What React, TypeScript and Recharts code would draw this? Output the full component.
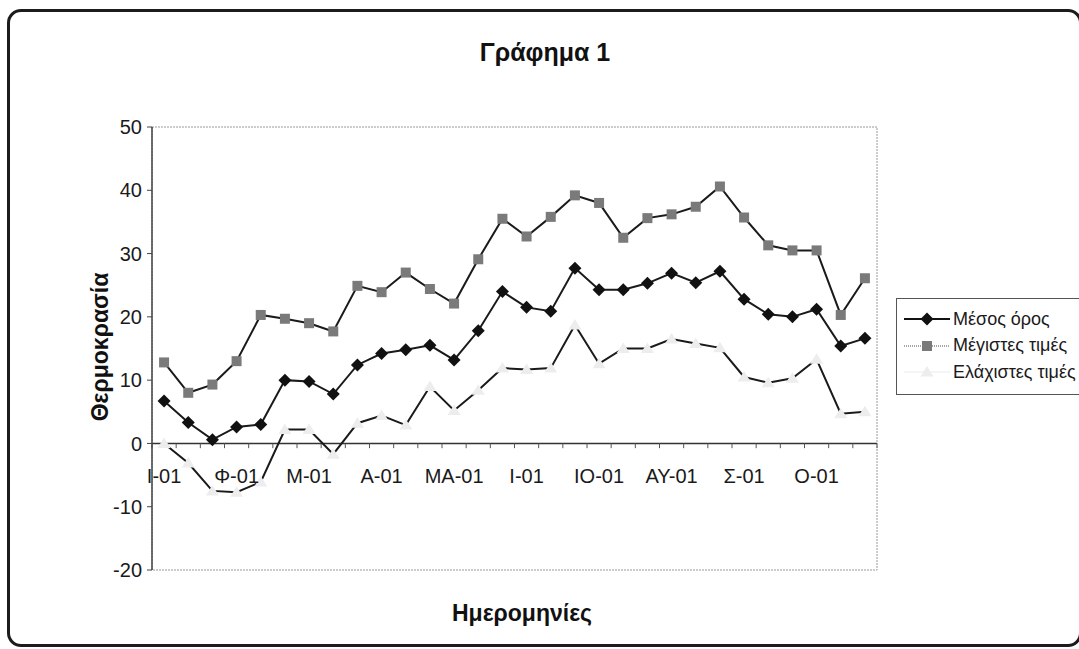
import React from 'react';
import {
  LineChart,
  Line,
  XAxis,
  YAxis,
  ReferenceLine,
  ReferenceArea,
  ReferenceDot,
} from 'recharts';

const monthLabels = ['Ι-01', 'Φ-01', 'Μ-01', 'Α-01', 'ΜΑ-01', 'Ι-01', 'ΙΟ-01', 'ΑΥ-01', 'Σ-01', 'Ο-01'];
const pointsPerMonth = 3;

const meanValues = [
  6.7, 3.3, 0.6, 2.6, 3.0, 10.0, 9.8, 7.8, 12.4, 14.2,
  14.8, 15.5, 13.2, 17.8, 24.0, 21.5, 20.9, 27.7, 24.3, 24.3,
  25.3, 26.9, 25.4, 27.2, 22.8, 20.4, 20.0, 21.2, 15.4, 16.6,
];
const maxValues = [
  12.8, 8.0, 9.3, 13.0, 20.3, 19.7, 19.0, 17.7, 24.9, 23.9,
  27.0, 24.4, 22.1, 29.1, 35.5, 32.7, 35.8, 39.2, 38.0, 32.5,
  35.6, 36.2, 37.4, 40.6, 35.7, 31.3, 30.5, 30.5, 20.3, 26.1,
];
const minValues = [
  0.0, -3.1, -7.5, -7.7, -6.1, 2.2, 2.2, -1.7, 3.2, 4.4,
  2.9, 9.0, 5.2, 8.4, 11.9, 11.7, 11.9, 18.7, 12.6, 15.0,
  15.0, 16.5, 15.8, 15.1, 10.5, 9.6, 10.3, 13.3, 4.7, 5.0,
];
const seriesNames = ['Μέσος όρος', 'Μέγιστες τιμές', 'Ελάχιστες τιμές'];
const yTicks = [-20, -10, 0, 10, 20, 30, 40, 50];

const data = meanValues.map((m, i) => ({
  x: i + 0.5,
  mean: m,
  max: maxValues[i],
  min: minValues[i],
}));
const nPoints = meanValues.length;
const boundaries = Array.from({ length: nPoints + 1 }, (_, k) => k);

const FONT = '"Liberation Sans", Arial, Helvetica, sans-serif';

const Diamond = (props: any) => {
  const { cx, cy, index } = props;
  if (cx == null || cy == null) return <g key={`d${index}`} />;
  return (
    <path
      key={`d${index}`}
      d={`M${cx},${cy - 6.5}L${cx + 6.5},${cy}L${cx},${cy + 6.5}L${cx - 6.5},${cy}Z`}
      fill="#111"
    />
  );
};
const Square = (props: any) => {
  const { cx, cy, index } = props;
  if (cx == null || cy == null) return <g key={`s${index}`} />;
  return <rect key={`s${index}`} x={cx - 5} y={cy - 5} width={10} height={10} fill="#7a7a7a" />;
};
const Triangle = (props: any) => {
  const { cx, cy, index } = props;
  if (cx == null || cy == null) return <g key={`t${index}`} />;
  return (
    <path
      key={`t${index}`}
      d={`M${cx},${cy - 6}L${cx + 6.5},${cy + 4.5}L${cx - 6.5},${cy + 4.5}Z`}
      fill="#ededed"
    />
  );
};

const LegendSample = ({ kind }: { kind: number }) => (
  <svg width={46} height={14} style={{ display: 'block' }}>
    {kind === 0 && (
      <>
        <line x1={0} y1={7} x2={46} y2={7} stroke="#111" strokeWidth={2} />
        <path d="M23,0.5L29.5,7L23,13.5L16.5,7Z" fill="#111" />
      </>
    )}
    {kind === 1 && (
      <>
        <line x1={0} y1={7} x2={46} y2={7} stroke="#888" strokeWidth={1.5} strokeDasharray="1 1" />
        <rect x={18} y={2} width={10} height={10} fill="#7a7a7a" />
      </>
    )}
    {kind === 2 && (
      <>
        <line x1={0} y1={7} x2={46} y2={7} stroke="#f2f2f2" strokeWidth={1.5} />
        <path d="M23,1L29.5,11.5L16.5,11.5Z" fill="#ededed" />
      </>
    )}
  </svg>
);

export default function App() {
  return (
    <div
      style={{
        position: 'absolute',
        left: 0,
        top: 0,
        width: 1079,
        height: 649,
        overflow: 'hidden',
        background: '#fff',
        fontFamily: FONT,
      }}
    >
      <div
        style={{
          position: 'absolute',
          left: 7,
          top: 9,
          width: 1075,
          height: 638,
          border: '3px solid #1c1c1c',
          borderRadius: 14,
          boxSizing: 'border-box',
        }}
      />
      <div style={{ position: 'absolute', left: 0, top: 0 }}>
        <LineChart
          width={1079}
          height={649}
          data={data}
          margin={{ top: 127, right: 202, bottom: 79, left: 92 }}
        >
          <XAxis dataKey="x" type="number" domain={[0, nPoints]} hide />
          <YAxis
            type="number"
            domain={[-20, 50]}
            ticks={yTicks}
            interval={0}
            width={60}
            tickSize={5}
            tickMargin={5}
            axisLine={{ stroke: '#444', strokeWidth: 1.5 }}
            tickLine={{ stroke: '#444' }}
            tick={{ fontSize: 20, fill: '#1a1a1a', fontFamily: FONT }}
          />
          <ReferenceArea
            x1={0}
            x2={nPoints}
            y1={-20}
            y2={50}
            fill="none"
            stroke="#9a9a9a"
            strokeDasharray="2 1"
            ifOverflow="visible"
          />
          <ReferenceLine y={0} stroke="#333" strokeWidth={1.5} />
          {boundaries.map((k) => (
            <ReferenceLine
              key={`tk${k}`}
              segment={[
                { x: k, y: 0 },
                { x: k, y: -0.75 },
              ]}
              stroke="#555"
              ifOverflow="visible"
            />
          ))}
          {monthLabels.map((lab, m) => (
            <ReferenceDot
              key={`ml${m}`}
              x={m * pointsPerMonth + 0.5}
              y={0}
              r={0}
              fill="none"
              stroke="none"
              ifOverflow="visible"
              label={{
                value: lab,
                position: 'bottom',
                offset: 25,
                fontSize: 20,
                fill: '#1a1a1a',
                fontFamily: FONT,
              }}
            />
          ))}
          <Line
            dataKey="min"
            name={seriesNames[2]}
            stroke="#1a1a1a"
            strokeWidth={2}
            dot={Triangle}
            activeDot={false}
            isAnimationActive={false}
          />
          <Line
            dataKey="max"
            name={seriesNames[1]}
            stroke="#1a1a1a"
            strokeWidth={2}
            dot={Square}
            activeDot={false}
            isAnimationActive={false}
          />
          <Line
            dataKey="mean"
            name={seriesNames[0]}
            stroke="#1a1a1a"
            strokeWidth={2}
            dot={Diamond}
            activeDot={false}
            isAnimationActive={false}
          />
        </LineChart>
      </div>

      <div
        style={{
          position: 'absolute',
          left: 0,
          width: 1090,
          top: 36,
          textAlign: 'center',
          fontSize: 25,
          fontWeight: 'bold',
          color: '#111',
          lineHeight: '32px',
        }}
      >
        Γράφημα 1
      </div>
      <div
        style={{
          position: 'absolute',
          left: 100,
          top: 347,
          transform: 'translate(-50%, -50%) rotate(-90deg)',
          fontSize: 23,
          fontWeight: 'bold',
          color: '#111',
          whiteSpace: 'nowrap',
        }}
      >
        Θερμοκρασία
      </div>
      <div
        style={{
          position: 'absolute',
          left: 522,
          top: 613,
          transform: 'translate(-50%, -50%)',
          fontSize: 23,
          fontWeight: 'bold',
          color: '#111',
          whiteSpace: 'nowrap',
        }}
      >
        Ημερομηνίες
      </div>

      <div
        style={{
          position: 'absolute',
          left: 896,
          top: 298,
          width: 200,
          height: 97,
          border: '1px solid #555',
          boxSizing: 'border-box',
          background: '#fff',
          paddingTop: 7,
        }}
      >
        {seriesNames.map((nm, k) => (
          <div
            key={nm}
            style={{ display: 'flex', alignItems: 'center', height: 26.5, paddingLeft: 7 }}
          >
            <LegendSample kind={k} />
            <span style={{ marginLeft: 3, fontSize: 18, color: '#1a1a1a', whiteSpace: 'nowrap' }}>
              {nm}
            </span>
          </div>
        ))}
      </div>
    </div>
  );
}
